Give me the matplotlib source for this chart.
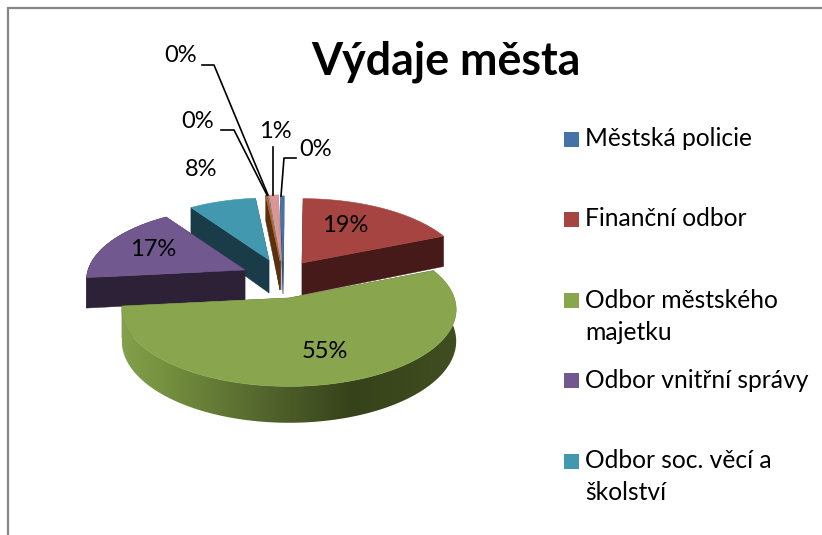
import numpy as np
import matplotlib
matplotlib.use('Agg')
import matplotlib.pyplot as plt
from matplotlib.colors import LinearSegmentedColormap
from matplotlib.patches import Polygon, Rectangle

plt.rcParams['font.family'] = ['Lato', 'DejaVu Sans']

title = 'Výdaje města'
# share of each slice in percent, clockwise from the top
values = [0.4, 18.6, 54.6, 17.2, 7.9, 0.2, 0.1, 1.0]
pct_labels = ['0%', '19%', '55%', '17%', '8%', '0%', '0%', '1%']
legend_labels = ['Městská policie', 'Finanční odbor', 'Odbor městského\nmajetku',
                 'Odbor vnitřní správy', 'Odbor soc. věcí a\nškolství']

top_colors = ['#4572a7', '#a54441', '#89a54e', '#71588f', '#4198af', '#b5651d', '#8a9cc4', '#d99694']
side_colors = ['#2d4a70', '#451a18', '#3a4519', '#2c2137', '#1a3c48', '#5a3010', '#5a6a90', '#7d4a48']
legend_colors = top_colors[:5]

# pixel layout of the fake 3d pie
R = 167
RY = 76
PERSP = 0.15
ROT = -1.0
apex = [(283, 262), (302, 263), (289, 298), (245, 270), (269, 260), (280, 261), (280, 261), (281, 261)]
radius = [1.0, 0.97, 0.99, 0.94, 0.93, 1.0, 1.0, 1.0]
depth = [32, 32, 31, 30, 33, 29, 29, 29]
legend_y = [139, 219, 300, 380, 461]


def project(cx, cy, theta, r=1.0, z=0.0):
    u = np.sin(theta) * r
    v = np.cos(theta) * r
    s = 1 / (1 + PERSP * v)
    return cx + R * u * s, cy - RY * v * s + z * s


fig = plt.figure(figsize=(8.22, 5.35), dpi=100)
ax = fig.add_axes([0, 0, 1, 1])
ax.set_xlim(0, 822)
ax.set_ylim(535, 0)
ax.axis('off')

# chart frame, cropped by the screenshot at the bottom and right
ax.plot([8, 8, 822], [535, 8, 8], color='#868686', lw=1.6, solid_joinstyle='miter')

angles = np.cumsum([0] + values) * 3.6 + ROT
angles = np.deg2rad(angles)

wall_cmap = LinearSegmentedColormap.from_list(
    'wall', [(0, '#83a04c'), (0.12, '#76913f'), (0.4, '#56692f'), (0.68, '#36421a'), (1, '#404e20')])

# back slices first, green last
for i in [7, 6, 5, 0, 4, 1, 3, 2]:
    cx, cy = apex[i]
    r = radius[i]
    d = depth[i]
    t = np.linspace(angles[i], angles[i + 1], 240)
    x, y = project(cx, cy, t, r)

    # cut faces
    for th in (angles[i], angles[i + 1]):
        ex, ey = project(cx, cy, th, r)
        bx, by = project(cx, cy, th, r, z=d)
        ax.add_patch(Polygon([(cx, cy), (ex, ey), (bx, by), (cx, cy + d)],
                             fc=side_colors[i], ec=side_colors[i], lw=0.3))

    # outer wall, gradient on the big slice
    bx, by = project(cx, cy, t, r, z=d)
    wall = np.vstack([np.column_stack([x, y]), np.column_stack([bx, by])[::-1]])
    if i == 2:
        patch = Polygon(wall, fc='none', ec='none')
        ax.add_patch(patch)
        grad = np.linspace(0, 1, 256).reshape(1, -1)
        im = ax.imshow(grad, cmap=wall_cmap, extent=(x.min(), x.max(), by.max(), y.min()),
                       aspect='auto', zorder=patch.get_zorder())
        im.set_clip_path(patch)
        ax.set_xlim(0, 822)
        ax.set_ylim(535, 0)
    elif np.cos(t).min() < 0:
        ax.add_patch(Polygon(wall, fc=side_colors[i], ec=side_colors[i], lw=0.3))

    ax.add_patch(Polygon(np.vstack([[cx, cy], np.column_stack([x, y])]),
                         fc=top_colors[i], ec=top_colors[i], lw=0.4, zorder=2))

ax.text(446, 62, title, fontsize=32.2, fontweight='bold', ha='center', va='center', color='black')

# percent labels
label_pos = [(316, 149), (345, 226), (325, 352), (153, 249), (201, 170), (198, 122), (181, 56), (275, 132)]
for s, (lx, ly) in zip(pct_labels, label_pos):
    ax.text(lx, ly, s, fontsize=17, ha='center', va='center', color='black', zorder=3)

# leader lines
ax.plot([296, 284, 281], [158, 158, 196], color='black', lw=1.2, zorder=3)
ax.plot([273, 273], [147, 195], color='black', lw=1.2, zorder=3)
ax.plot([221, 234, 267], [130, 130, 195], color='black', lw=1.2, zorder=3)
ax.plot([202, 214, 268], [65, 65, 195], color='black', lw=1.2, zorder=3)

# legend
for c, s, ly in zip(legend_colors, legend_labels, legend_y):
    ax.add_patch(Rectangle((564, ly - 7), 15, 15, fc=c, ec='none'))
    parts = s.split('\n')
    ax.text(585, ly, parts[0], fontsize=17.7, va='center', color='black')
    if len(parts) > 1:
        ax.text(585, ly + 32, parts[1], fontsize=17.7, va='center', color='black')

fig.savefig('out.png', dpi=100)
